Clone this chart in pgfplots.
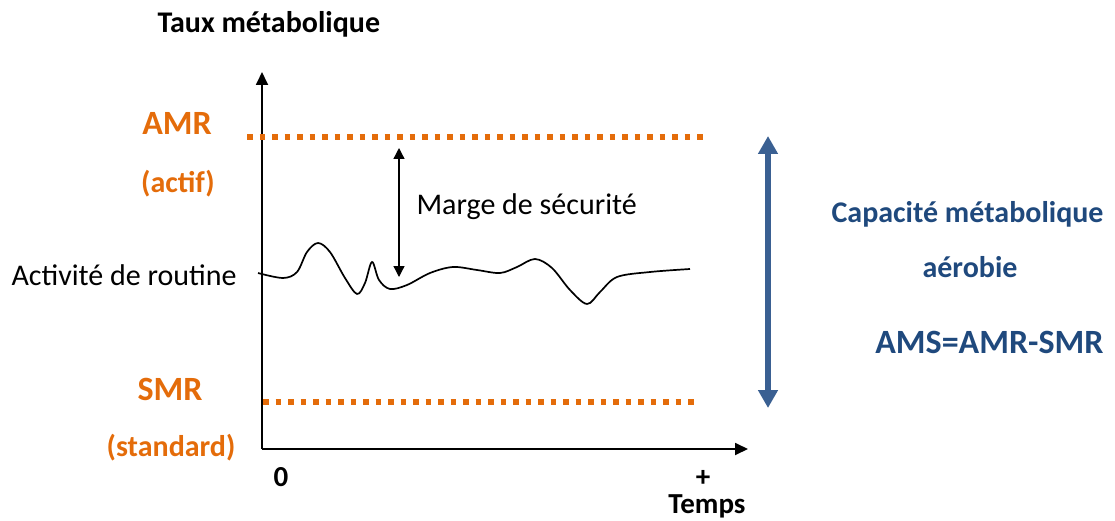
\documentclass[border=0pt]{standalone}
\usepackage{pgfplots}
\pgfplotsset{compat=1.18}
\usetikzlibrary{arrows.meta}
\usepackage{fontspec}
\setmainfont{Carlito}
\definecolor{orng}{RGB}{228,108,10}
\definecolor{barrow}{RGB}{58,96,146}
\definecolor{btext}{RGB}{31,73,125}
\begin{document}
\begin{tikzpicture}
\begin{axis}[
  x=1pt, y=1pt,
  xmin=0, xmax=1115, ymin=0, ymax=520,
  hide axis, clip=false,
]
\addplot[draw=none] coordinates {(0,0) (1115,520)};
% axes
\addplot[black, line width=1.8pt, -{Triangle[length=13pt,width=12pt]}] coordinates {(262,71) (262,448)};
\addplot[black, line width=1.8pt, -{Triangle[length=13pt,width=12pt]}] coordinates {(262,71) (748,71)};
% AMR / SMR
\addplot[orng, line width=5.5pt, dash pattern=on 5.5pt off 7pt] coordinates {(247,383) (703,383)};
\addplot[orng, line width=5.5pt, dash pattern=on 5.5pt off 7pt] coordinates {(263,118) (697,118)};
% routine curve
\addplot[black, line width=1.7pt, smooth, tension=0.55] coordinates {
(258,247) (283,242) (297,248) (307,268) (318,277) (330,268) (345,242) (357,226)
(365,237) (372,258) (379,240) (390,231) (407,235) (430,247) (453,253) (477,250)
(500,247) (517,253) (535,261) (552,252) (570,230) (587,216) (600,228) (617,243)
(650,248) (690,251)};
% safety margin arrow
\addplot[black, line width=1.3pt, {Triangle[length=11pt,width=11pt]}-{Triangle[length=11pt,width=11pt]}] coordinates {(399,372) (399,243)};
% blue arrow
\addplot[barrow, line width=5.5pt, {Triangle[length=18pt,width=19pt]}-{Triangle[length=18pt,width=19pt]}] coordinates {(768,384) (768,112)};
% texts
\node[anchor=base west, font=\fontsize{30}{36}\selectfont\bfseries] at (axis cs:154,487) {Taux métabolique};
\node[anchor=base, text=orng, font=\fontsize{34}{40}\selectfont\bfseries] at (axis cs:177,385) {AMR};
\node[anchor=base, text=orng, font=\fontsize{30}{36}\selectfont\bfseries] at (axis cs:178,328) {(actif)};
\node[anchor=base west, font=\fontsize{30}{36}\selectfont] at (axis cs:8,235) {Activité de routine};
\node[anchor=base west, font=\fontsize{30}{36}\selectfont] at (axis cs:413,306) {Marge de sécurité};
\node[anchor=base, text=orng, font=\fontsize{34}{40}\selectfont\bfseries] at (axis cs:170,120) {SMR};
\node[anchor=base, text=orng, font=\fontsize{30}{36}\selectfont\bfseries] at (axis cs:171,64) {(standard)};
\node[anchor=base, font=\fontsize{29}{34}\selectfont\bfseries] at (axis cs:281,34) {0};
\node[anchor=base, font=\fontsize{29}{34}\selectfont\bfseries] at (axis cs:703,34) {+};
\node[anchor=base, font=\fontsize{29}{34}\selectfont\bfseries] at (axis cs:707,7) {Temps};
\node[anchor=base east, text=btext, font=\fontsize{30}{36}\selectfont\bfseries] at (axis cs:1107,298) {Capacité métabolique};
\node[anchor=base, text=btext, font=\fontsize{30}{36}\selectfont\bfseries] at (axis cs:970,243) {aérobie};
\node[anchor=base east, text=btext, font=\fontsize{34}{40}\selectfont\bfseries] at (axis cs:1107,167) {AMS=AMR-SMR};
\end{axis}
\end{tikzpicture}
\end{document}
